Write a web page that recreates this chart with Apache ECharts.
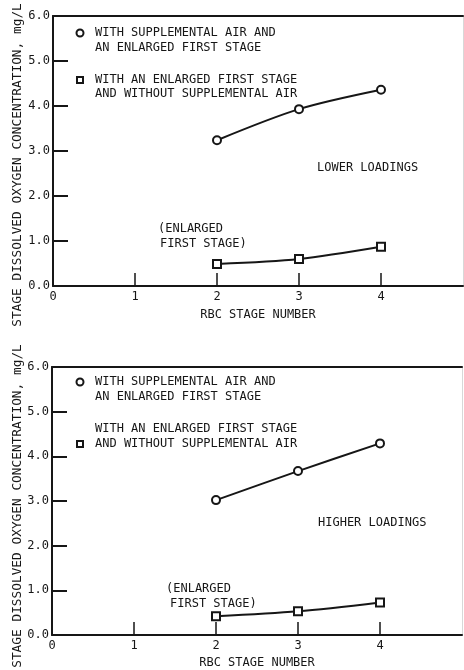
<!DOCTYPE html>
<html>
<head>
<meta charset="utf-8">
<script src="https://cdn.jsdelivr.net/npm/echarts@6/dist/echarts.min.js"></script>
<style>html,body{margin:0;padding:0;background:#fff;}#c{width:464px;height:670px;}</style>
</head>
<body>
<div id="c"></div>
<script>
// ---- data ----
const stages = [2, 3, 4];
const lowerWithAir = [3.24, 3.93, 4.36];
const lowerWithoutAir = [0.49, 0.60, 0.87];
const higherWithAir = [3.02, 3.67, 4.29];
const higherWithoutAir = [0.42, 0.53, 0.73];
const xTickLabels = ['0', '1', '2', '3', '4'];
const yTickLabels = ['0.0', '1.0', '2.0', '3.0', '4.0', '5.0', '6.0'];
const legendWithAir = ['WITH SUPPLEMENTAL AIR AND', 'AN ENLARGED FIRST STAGE'];
const legendWithoutAir = ['WITH AN ENLARGED FIRST STAGE', 'AND WITHOUT SUPPLEMENTAL AIR'];
const yTitle = 'STAGE DISSOLVED OXYGEN CONCENTRATION, mg/L';
const xTitle = 'RBC STAGE NUMBER';
const panelLabels = ['LOWER LOADINGS', 'HIGHER LOADINGS'];
const stageNote = ['(ENLARGED', 'FIRST STAGE)'];

const FONT = 'DejaVu Sans Mono';
const INK = '#161616';

function pts(arr) { return stages.map((s, i) => [s, arr[i]]); }

function xAxisMain(gi, gap) {
  return {
    type: 'value', gridIndex: gi, min: 0, max: 5, interval: 1,
    name: xTitle, nameLocation: 'middle', nameGap: gap,
    nameTextStyle: { fontFamily: FONT, fontSize: 12, color: INK },
    axisLine: { show: true, onZero: false, lineStyle: { color: INK, width: 2 } },
    axisTick: { show: true, inside: true, length: 13, customValues: [1, 2, 3, 4], lineStyle: { color: INK, width: 1.5 } },
    axisLabel: { customValues: [0, 1, 2, 3, 4], margin: 5, fontFamily: FONT, fontSize: 12, color: INK,
      formatter: v => xTickLabels[v] },
    splitLine: { show: false }
  };
}
function xAxisTop(gi) {
  return {
    type: 'value', gridIndex: gi, position: 'top', min: 0, max: 5,
    axisLine: { show: true, onZero: false, lineStyle: { color: INK, width: 2 } },
    axisTick: { show: false }, axisLabel: { show: false }, splitLine: { show: false }
  };
}
function yAxisMain(gi) {
  return {
    type: 'value', gridIndex: gi, min: 0, max: 6, interval: 1,
    axisLine: { show: true, onZero: false, lineStyle: { color: INK, width: 2 } },
    axisTick: { show: true, inside: true, length: 15, customValues: [1, 2, 3, 4, 5], lineStyle: { color: INK, width: 2 } },
    axisLabel: { margin: 3, fontFamily: FONT, fontSize: 12, color: INK, formatter: v => yTickLabels[v] },
    splitLine: { show: false }
  };
}
function yAxisRight(gi) {
  return {
    type: 'value', gridIndex: gi, position: 'right', min: 0, max: 6,
    axisLine: { show: true, onZero: false, lineStyle: { color: '#d8d8d8', width: 1 } },
    axisTick: { show: false }, axisLabel: { show: false }, splitLine: { show: false }
  };
}
function lineSeries(name, arr, xi, yi, symbol) {
  return {
    name: name, type: 'line', xAxisIndex: xi, yAxisIndex: yi,
    data: pts(arr), smooth: 0.3, symbol: symbol, symbolSize: 8,
    lineStyle: { color: INK, width: 2 },
    itemStyle: { color: '#fff', borderColor: INK, borderWidth: 2 },
    z: 5
  };
}
function txt(x, y, s, extra) {
  return Object.assign({ type: 'text', x: x, y: y,
    style: { text: s, fontFamily: FONT, fontSize: 12, fill: INK, textAlign: 'left', textVerticalAlign: 'middle' } }, extra || {});
}

const graphics = [];
// panel 1 legend/annotations
graphics.push({ type: 'circle', shape: { cx: 80, cy: 33, r: 3.5 }, style: { fill: '#fff', stroke: INK, lineWidth: 2 } });
graphics.push(txt(95, 33, legendWithAir[0]), txt(95, 48, legendWithAir[1]));
graphics.push({ type: 'rect', shape: { x: 77, y: 77, width: 6, height: 6 }, style: { fill: '#fff', stroke: INK, lineWidth: 2 } });
graphics.push(txt(95, 80, legendWithoutAir[0]), txt(95, 94, legendWithoutAir[1]));
graphics.push(txt(317, 168, panelLabels[0]));
graphics.push(txt(158, 229, stageNote[0]), txt(160, 244, stageNote[1]));
// panel 2
graphics.push({ type: 'circle', shape: { cx: 80, cy: 382, r: 3.5 }, style: { fill: '#fff', stroke: INK, lineWidth: 2 } });
graphics.push(txt(95, 382, legendWithAir[0]), txt(95, 397, legendWithAir[1]));
graphics.push({ type: 'rect', shape: { x: 77, y: 441, width: 6, height: 6 }, style: { fill: '#fff', stroke: INK, lineWidth: 2 } });
graphics.push(txt(95, 429, legendWithoutAir[0]), txt(95, 444, legendWithoutAir[1]));
graphics.push(txt(318, 523, panelLabels[1]));
graphics.push(txt(166, 589, stageNote[0]), txt(170, 604, stageNote[1]));
// y titles
graphics.push({ type: 'text', x: 18, y: 165, rotation: Math.PI / 2,
  style: { text: yTitle, fontFamily: FONT, fontSize: 12.8, fill: INK, textAlign: 'center', textVerticalAlign: 'middle' } });
graphics.push({ type: 'text', x: 18, y: 506, rotation: Math.PI / 2,
  style: { text: yTitle, fontFamily: FONT, fontSize: 12.8, fill: INK, textAlign: 'center', textVerticalAlign: 'middle' } });

const chart = echarts.init(document.getElementById('c'), null, { renderer: 'canvas' });
chart.setOption({
  backgroundColor: '#fff',
  animation: false,
  grid: [
    { left: 53, top: 16, width: 410, height: 270 },
    { left: 52, top: 367, width: 410, height: 270 }
  ],
  xAxis: [xAxisMain(0, 23), xAxisTop(0), xAxisMain(1, 22), xAxisTop(1)],
  yAxis: [yAxisMain(0), yAxisRight(0), yAxisMain(1), yAxisRight(1)],
  series: [
    lineSeries('lower with air', lowerWithAir, 0, 0, 'circle'),
    lineSeries('lower without air', lowerWithoutAir, 0, 0, 'rect'),
    lineSeries('higher with air', higherWithAir, 2, 2, 'circle'),
    lineSeries('higher without air', higherWithoutAir, 2, 2, 'rect')
  ],
  graphic: graphics
});
</script>
</body>
</html>
